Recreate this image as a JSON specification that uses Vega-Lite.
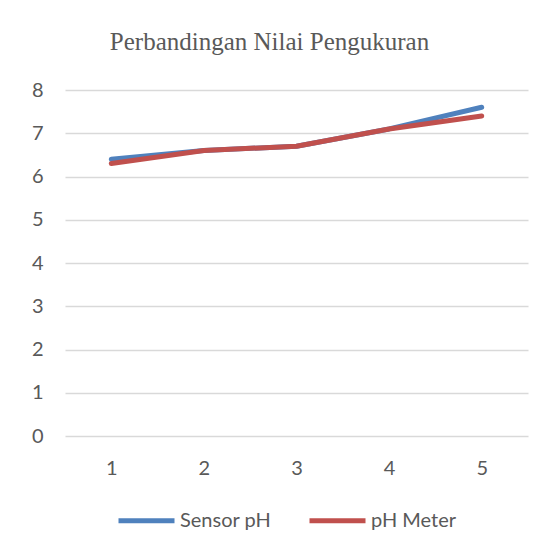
{
  "$schema": "https://vega.github.io/schema/vega-lite/v6.json",
  "width": 463,
  "height": 346,
  "autosize": {"type": "none"},
  "padding": {"left": 65, "top": 90, "right": 25, "bottom": 120},
  "background": "white",
  "title": {
    "text": "Perbandingan Nilai Pengukuran",
    "font": "Liberation Serif",
    "fontSize": 25,
    "fontWeight": "normal",
    "color": "#595959",
    "anchor": "middle",
    "frame": "group",
    "offset": 25,
    "dx": -27
  },
  "data": {
    "values": [
      {"x": "1", "series": "Sensor pH", "value": 6.4},
      {"x": "2", "series": "Sensor pH", "value": 6.6},
      {"x": "3", "series": "Sensor pH", "value": 6.7},
      {"x": "4", "series": "Sensor pH", "value": 7.1},
      {"x": "5", "series": "Sensor pH", "value": 7.6},
      {"x": "1", "series": "pH Meter", "value": 6.3},
      {"x": "2", "series": "pH Meter", "value": 6.6},
      {"x": "3", "series": "pH Meter", "value": 6.7},
      {"x": "4", "series": "pH Meter", "value": 7.1},
      {"x": "5", "series": "pH Meter", "value": 7.4}
    ]
  },
  "mark": {"type": "line", "strokeWidth": 5, "strokeCap": "round", "strokeJoin": "round"},
  "encoding": {
    "x": {
      "field": "x",
      "type": "ordinal",
      "scale": {"type": "point", "padding": 0.5},
      "axis": {
        "title": null,
        "labelAngle": 0,
        "domain": false,
        "ticks": false,
        "grid": false,
        "labelPadding": 22,
        "labelFont": "Lato",
        "labelFontSize": 20,
        "labelColor": "#595959"
      }
    },
    "y": {
      "field": "value",
      "type": "quantitative",
      "scale": {"domain": [0, 8], "nice": false},
      "axis": {
        "title": null,
        "values": [0, 1, 2, 3, 4, 5, 6, 7, 8],
        "labelOverlap": false,
        "domain": false,
        "ticks": false,
        "grid": true,
        "gridColor": "#D9D9D9",
        "gridWidth": 1.5,
        "labelPadding": 22,
        "labelFont": "Lato",
        "labelFontSize": 20,
        "labelColor": "#595959"
      }
    },
    "color": {
      "field": "series",
      "type": "nominal",
      "scale": {"domain": ["Sensor pH", "pH Meter"], "range": ["#4F81BD", "#C0504D"]},
      "legend": {
        "title": null,
        "orient": "none",
        "direction": "horizontal",
        "legendX": 51,
        "legendY": 400,
        "symbolType": "stroke",
        "symbolSize": 3136,
        "symbolStrokeWidth": 5,
        "labelOffset": 3,
        "columnPadding": 27,
        "labelFont": "Lato",
        "labelFontSize": 20,
        "labelColor": "#595959"
      }
    },
    "order": {"field": "x"}
  },
  "config": {"view": {"stroke": null}}
}
